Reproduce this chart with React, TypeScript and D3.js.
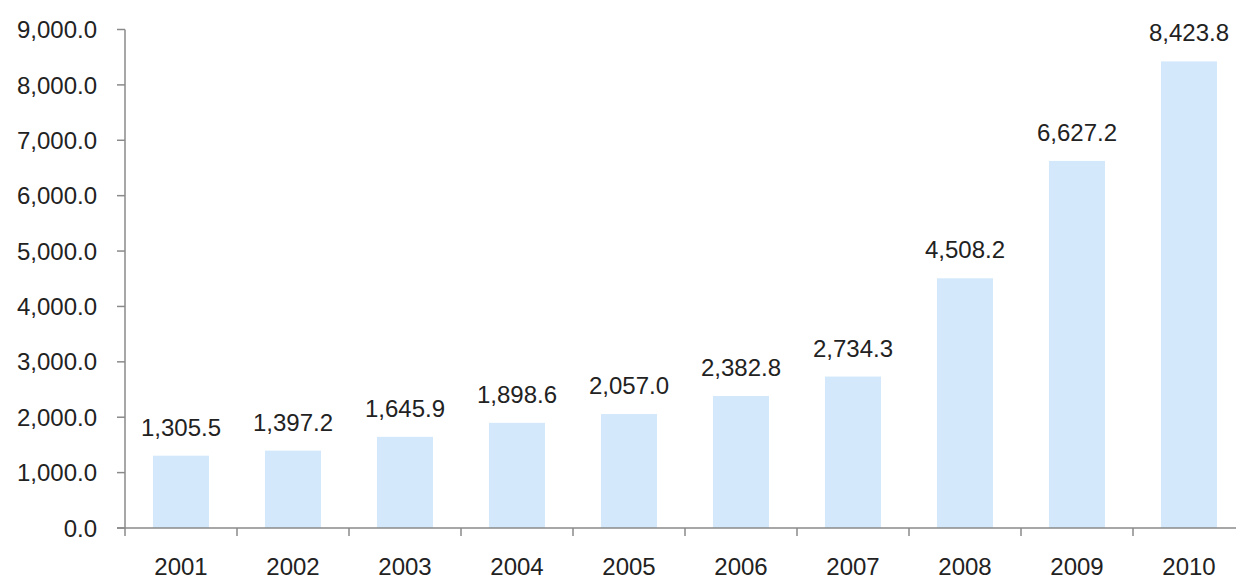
import React from "react";
import * as d3 from "d3";

const years = ["2001", "2002", "2003", "2004", "2005", "2006", "2007", "2008", "2009", "2010"];
const values = [1305.5, 1397.2, 1645.9, 1898.6, 2057.0, 2382.8, 2734.3, 4508.2, 6627.2, 8423.8];
const yTicks = [0, 1000, 2000, 3000, 4000, 5000, 6000, 7000, 8000, 9000];

const W = 1236;
const H = 581;
const left = 125;
const bottom = 528;
const top = 29.5;

export default function App() {
  const x = d3.scaleBand<string>().domain(years).range([left, left + 112 * years.length]).paddingInner(0.5).paddingOuter(0.25);
  const y = d3.scaleLinear().domain([0, 9000]).range([bottom, top]);
  const fmt = d3.format(",.1f");
  const font = "'Liberation Sans', Arial, sans-serif";
  const axisColor = "#8a8a8a";
  const step = x.step();
  const fs = 24;

  return (
    <svg width={W} height={H} style={{ position: "absolute", left: 0, top: 0, background: "#fff" }} fontFamily={font}>
      {values.map((v, i) => (
        <rect key={years[i]} x={x(years[i])!} y={y(v)} width={x.bandwidth()} height={bottom - y(v)} fill="#d3e8fb" />
      ))}
      <line x1={left} x2={left} y1={top} y2={bottom + 8} stroke={axisColor} strokeWidth={1.5} />
      <line x1={left - 8} x2={W} y1={bottom} y2={bottom} stroke={axisColor} strokeWidth={1.5} />
      {yTicks.map((t) => (
        <g key={t}>
          <line x1={left - 8} x2={left} y1={y(t)} y2={y(t)} stroke={axisColor} strokeWidth={1.5} />
          <text x={97} y={y(t)} dy="0.36em" textAnchor="end" fontSize={fs} fill="#222">
            {fmt(t)}
          </text>
        </g>
      ))}
      {years.map((yr, i) => (
        <g key={yr}>
          {i > 0 && (
            <line x1={left + step * i} x2={left + step * i} y1={bottom} y2={bottom + 8} stroke={axisColor} strokeWidth={1.5} />
          )}
          <text x={x(yr)! + x.bandwidth() / 2} y={575} textAnchor="middle" fontSize={fs} fill="#222">
            {yr}
          </text>
        </g>
      ))}
      {values.map((v, i) => (
        <text key={"l" + i} x={x(years[i])! + x.bandwidth() / 2} y={y(v) - 20} textAnchor="middle" fontSize={fs} fill="#222">
          {fmt(v)}
        </text>
      ))}
    </svg>
  );
}
